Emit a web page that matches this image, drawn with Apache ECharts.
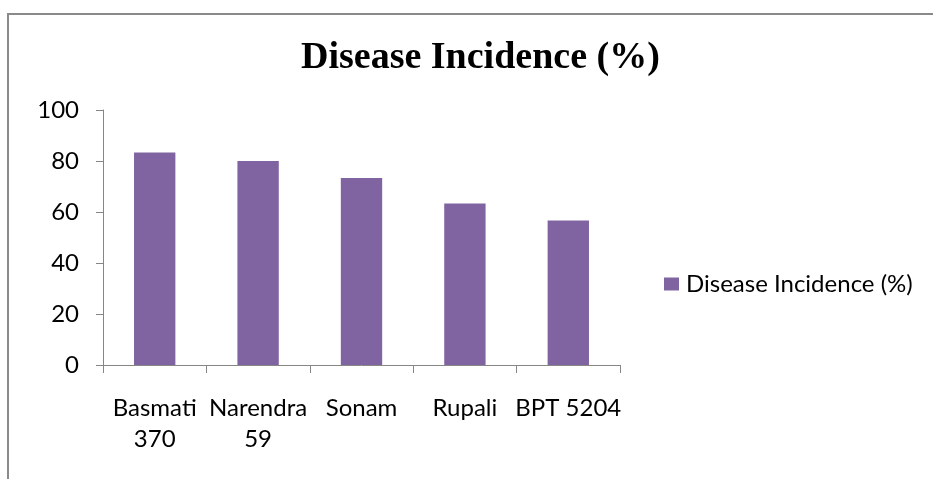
<!DOCTYPE html>
<html><head><meta charset="utf-8">
<script src="https://cdn.jsdelivr.net/npm/echarts@6/dist/echarts.min.js"></script>
<style>html,body{margin:0;padding:0;background:#fff}#c{width:933px;height:479px}</style>
</head><body><div id="c"></div>
<script>
const categories = ['Basmati\n370', 'Narendra\n59', 'Sonam', 'Rupali', 'BPT 5204'];
const values = [83.3, 80, 73.3, 63.3, 56.7];
const seriesName = 'Disease Incidence (%)';
const titleText = 'Disease Incidence (%)';

const chart = echarts.init(document.getElementById('c'), null, {renderer: 'canvas'});
const labelFont = 'Lato, "Open Sans", sans-serif';
chart.setOption({
  animation: false,
  backgroundColor: '#fff',
  title: {
    text: titleText, left: 301, top: 39, padding: 0,
    textStyle: {fontFamily: '"Liberation Serif", "Times New Roman", serif', fontWeight: 'bold', fontSize: 38, color: '#000'}
  },
  graphic: [{
    type: 'rect', shape: {x: 8, y: 14, width: 1000, height: 1000},
    style: {fill: 'none', stroke: '#8a8a8a', lineWidth: 2}, silent: true
  }],
  legend: {
    left: 664, top: 272, padding: 0, itemWidth: 15, itemHeight: 13, itemGap: 5,
    icon: 'rect',
    textStyle: {fontFamily: labelFont, fontSize: 24, color: '#000', padding: [0, 0, 0, 2]},
    data: [seriesName]
  },
  grid: {left: 103, right: 313, top: 110, bottom: 114, containLabel: false},
  xAxis: {
    type: 'category', data: categories,
    axisLine: {lineStyle: {color: '#868686', width: 1}},
    axisTick: {show: true, length: 8, lineStyle: {color: '#868686'}},
    axisLabel: {interval: 0, margin: 28, fontFamily: labelFont, fontSize: 24, color: '#000', lineHeight: 31}
  },
  yAxis: {
    type: 'value', min: 0, max: 100, interval: 20,
    axisLine: {show: true, lineStyle: {color: '#868686', width: 1}},
    axisTick: {show: true, length: 7, lineStyle: {color: '#868686'}},
    splitLine: {show: false},
    axisLabel: {margin: 24, fontFamily: labelFont, fontSize: 24, color: '#000'}
  },
  series: [{
    name: seriesName, type: 'bar', data: values, barWidth: '40%',
    itemStyle: {color: '#8064A2'}
  }]
});
</script></body></html>
